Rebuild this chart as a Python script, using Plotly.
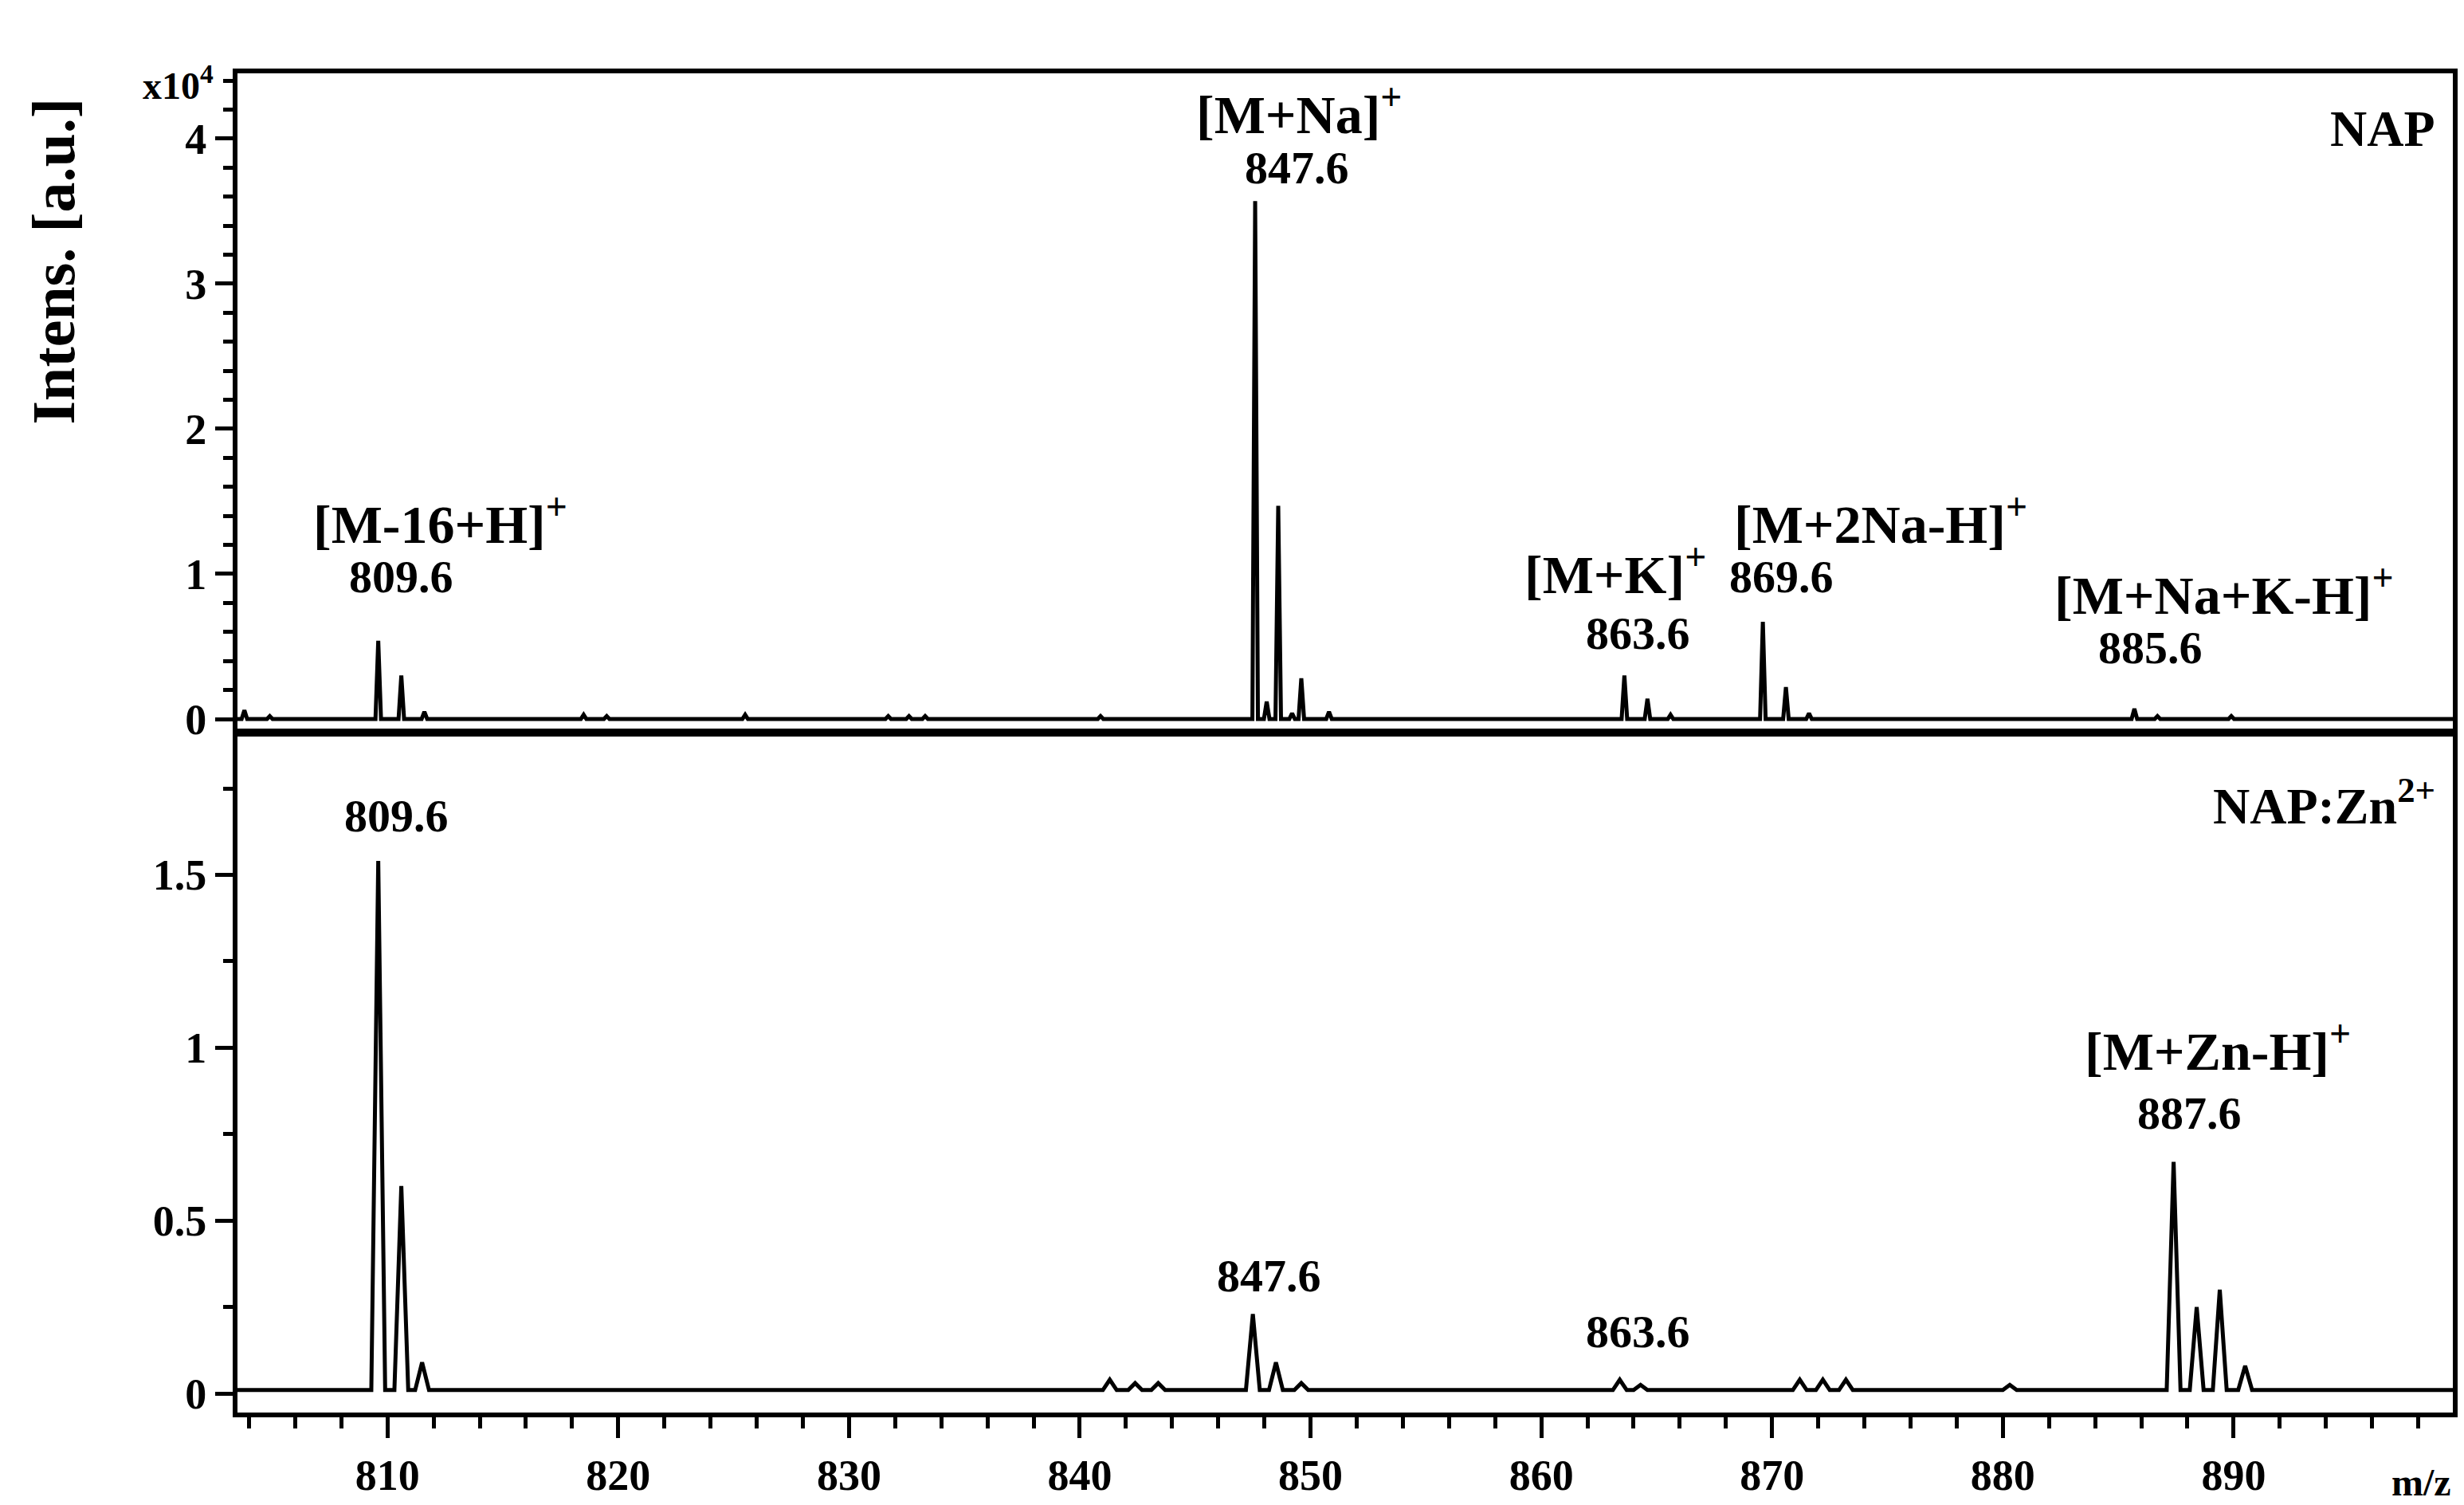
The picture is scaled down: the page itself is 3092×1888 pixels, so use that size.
import plotly.graph_objects as go

# Top panel (NAP) peaks: m/z and intensity (x10^4)
top_mz = [803.8, 804.9, 809.6, 810.6, 811.6, 818.5, 819.5, 825.5, 831.7, 832.6, 833.3, 840.9,
          847.6, 848.1, 848.6, 849.2, 849.6, 850.8, 863.6, 864.6, 865.6, 869.6, 870.6, 871.6,
          885.7, 886.7, 889.9]
top_int = [0.06, 0.02, 0.54, 0.30, 0.05, 0.03, 0.02, 0.03, 0.02, 0.02, 0.02, 0.02,
           3.57, 0.12, 1.47, 0.04, 0.28, 0.05, 0.30, 0.14, 0.03, 0.67, 0.22, 0.04,
           0.07, 0.02, 0.02]

# Bottom panel (NAP:Zn2+) peaks
bot_mz = [809.6, 810.6, 811.5, 841.3, 842.4, 843.4, 847.5, 848.5, 849.6, 863.4, 864.3,
          871.2, 872.2, 873.2, 880.3, 887.4, 888.4, 889.4, 890.5]
bot_int = [1.53, 0.59, 0.08, 0.03, 0.02, 0.02, 0.22, 0.08, 0.02, 0.03, 0.015,
           0.03, 0.03, 0.03, 0.015, 0.66, 0.24, 0.29, 0.07]
bot_base = 0.01

x_ticks = [810, 820, 830, 840, 850, 860, 870, 880, 890]

def profile(mz, inten, base, w):
    xs, ys = [803.5], [base]
    for m, h in sorted(zip(mz, inten)):
        xs += [m - w, m, m + w]
        ys += [base, base + h, base]
    xs.append(899.5); ys.append(base)
    return xs, ys

FONT = "Liberation Serif"
fig = go.Figure()
tx, ty = profile(top_mz, top_int, 0.0, 0.12)
bx, by = profile(bot_mz, bot_int, bot_base, 0.3)
fig.add_trace(go.Scatter(x=tx, y=ty, mode="lines", line=dict(color="black", width=5),
                         xaxis="x", yaxis="y"))
fig.add_trace(go.Scatter(x=bx, y=by, mode="lines", line=dict(color="black", width=5),
                         xaxis="x2", yaxis="y2"))

axcommon = dict(showline=True, linecolor="black", linewidth=6, mirror=True, showgrid=False,
                zeroline=False, ticks="outside", tickwidth=5, tickcolor="black",
                tickfont=dict(family=FONT, size=54, color="black", weight="bold"))
fig.update_layout(
    width=3092, height=1888, showlegend=False,
    paper_bgcolor="white", plot_bgcolor="white",
    margin=dict(l=290, r=22, t=84, b=124),
    font=dict(family=FONT, color="black"),
    xaxis=dict(axcommon, domain=[0, 1], range=[803.5, 899.5], anchor="y", showticklabels=False,
               ticks="", tickvals=x_ticks),
    yaxis=dict(axcommon, domain=[0.5107, 1], range=[-0.066, 4.45], anchor="x",
               tickvals=[0, 1, 2, 3, 4], ticklen=22,
               minor=dict(dtick=0.2, ticks="outside", ticklen=12, tickwidth=5, tickcolor="black")),
    xaxis2=dict(axcommon, domain=[0, 1], range=[803.5, 899.5], anchor="y2",
                tickvals=x_ticks, ticklen=26,
                minor=dict(dtick=2, ticks="outside", ticklen=14, tickwidth=5, tickcolor="black")),
    yaxis2=dict(axcommon, domain=[0, 0.5048], range=[-0.055, 1.90], anchor="x2",
                tickvals=[0, 0.5, 1, 1.5], ticktext=["0", "0.5", "1", "1.5"], ticklen=22,
                minor=dict(dtick=0.25, ticks="outside", ticklen=12, tickwidth=5, tickcolor="black")),
)

def ann(x, y, text, size=68, xref="x", yref="y", xanchor="center"):
    fig.add_annotation(x=x, y=y, xref=xref, yref=yref, text=f"<b>{text}</b>", showarrow=False,
                       xanchor=xanchor, yanchor="middle",
                       font=dict(family=FONT, size=size, color="black"))

ann(812.3, 1.37, "[M-16+H]<sup>+</sup>")
ann(810.6, 0.98, "809.6", 58)
ann(849.5, 4.19, "[M+Na]<sup>+</sup>")
ann(849.4, 3.80, "847.6", 58)
ann(863.2, 1.02, "[M+K]<sup>+</sup>")
ann(864.2, 0.59, "863.6", 58)
ann(874.7, 1.37, "[M+2Na-H]<sup>+</sup>")
ann(870.4, 0.98, "869.6", 58)
ann(889.6, 0.88, "[M+Na+K-H]<sup>+</sup>")
ann(886.4, 0.49, "885.6", 58)
ann(898.8, 4.07, "NAP", 64, xanchor="right")

ann(810.4, 1.67, "809.6", 58, "x2", "y2")
ann(898.8, 1.71, "NAP:Zn<sup>2+</sup>", 64, "x2", "y2", xanchor="right")
ann(889.3, 1.00, "[M+Zn-H]<sup>+</sup>", 68, "x2", "y2")
ann(888.1, 0.81, "887.6", 58, "x2", "y2")
ann(848.2, 0.34, "847.6", 58, "x2", "y2")
ann(864.2, 0.18, "863.6", 58, "x2", "y2")

fig.add_annotation(x=-0.083, y=0.86, xref="paper", yref="paper", text="<b>Intens. [a.u.]</b>",
                   textangle=-90, showarrow=False, xanchor="center", yanchor="middle",
                   font=dict(family=FONT, size=76, color="black"))
fig.add_annotation(x=-0.01, y=1.012, xref="paper", yref="paper", text="<b>x10<sup>4</sup></b>",
                   showarrow=False, xanchor="right", yanchor="top",
                   font=dict(family=FONT, size=48, color="black"))
fig.add_annotation(x=1.0, y=-0.035, xref="paper", yref="paper", text="<b>m/z</b>",
                   showarrow=False, xanchor="right", yanchor="top",
                   font=dict(family=FONT, size=48, color="black"))

fig.write_html("out.html")
